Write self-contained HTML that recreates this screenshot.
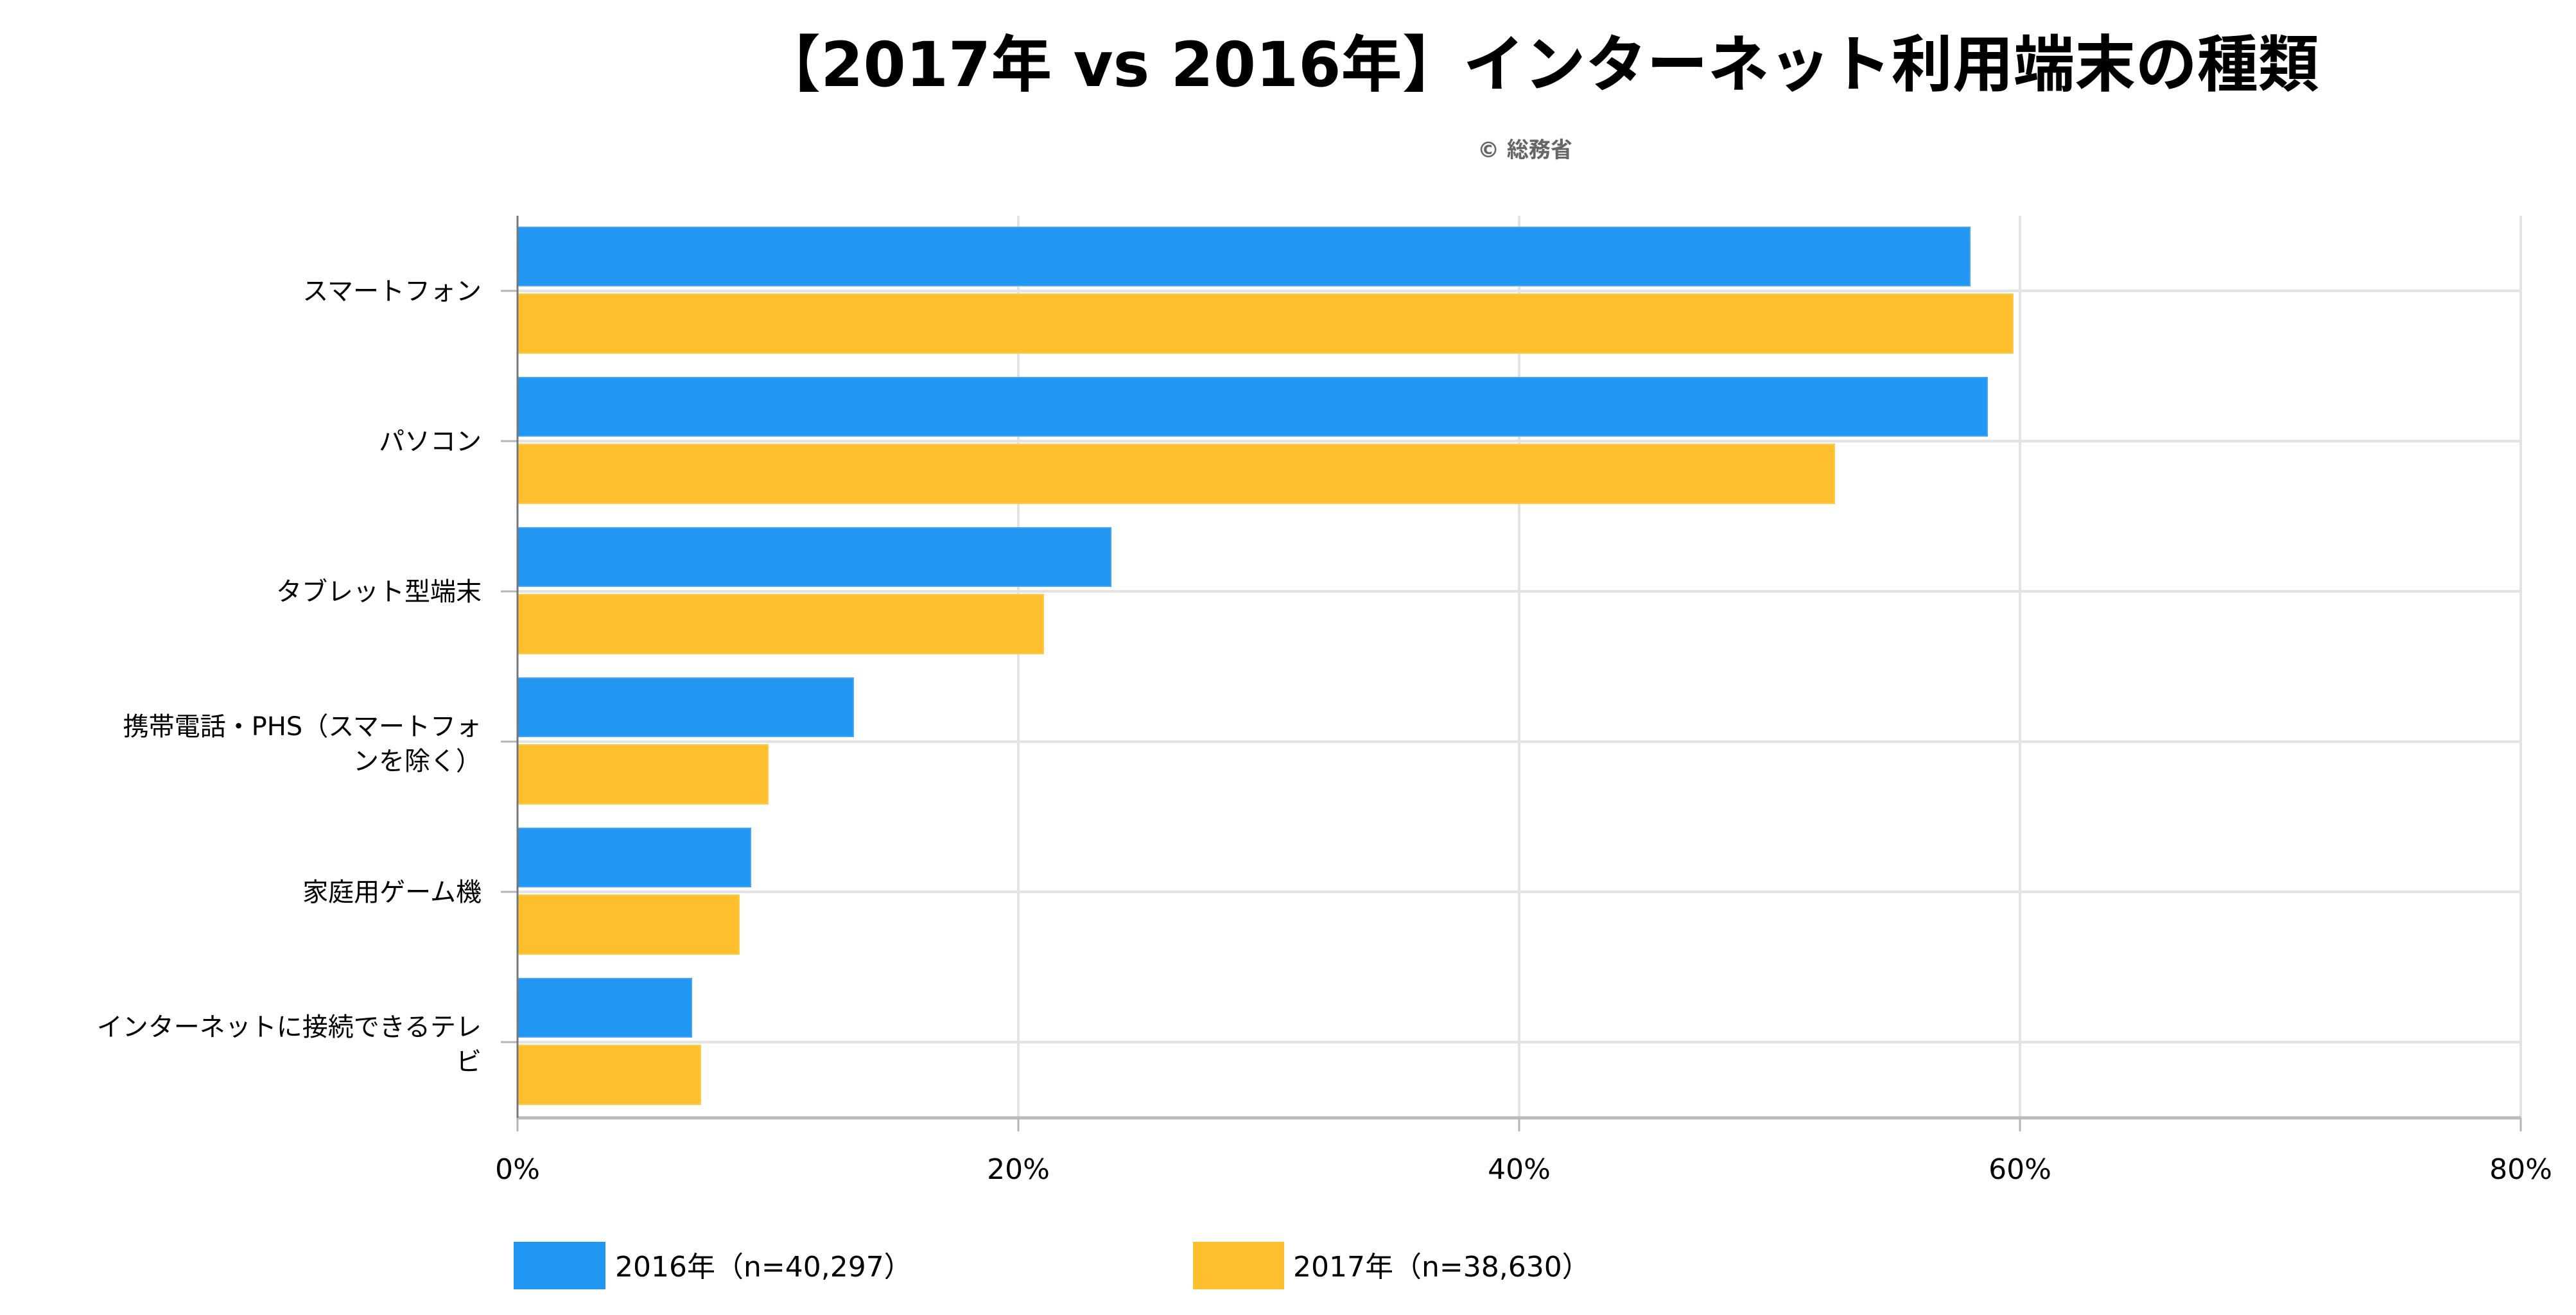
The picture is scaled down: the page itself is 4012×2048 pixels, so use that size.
<!DOCTYPE html>
<html><head><meta charset="utf-8"><style>html,body{margin:0;padding:0;background:#fff}svg{display:block}</style></head>
<body>
<svg width="4012" height="2048" viewBox="0 0 4012 2048" xmlns="http://www.w3.org/2000/svg" font-family="'DejaVu Sans','Noto Sans CJK JP',sans-serif">
<rect width="4012" height="2048" fill="#fff"/>
<text x="1183" y="134" font-size="96" font-weight="bold" fill="#000" textLength="2429" lengthAdjust="spacingAndGlyphs">【2017年 vs 2016年】インターネット利用端末の種類</text>
<text x="2375" y="245" text-anchor="middle" font-size="34" font-weight="bold" fill="#666">© 総務省</text>
<g stroke="#e3e3e3" stroke-width="4">
<line x1="1586" y1="336" x2="1586" y2="1741"/><line x1="2366" y1="336" x2="2366" y2="1741"/>
<line x1="3146" y1="336" x2="3146" y2="1741"/><line x1="3926" y1="336" x2="3926" y2="1741"/>
<line x1="806" y1="453" x2="3926" y2="453"/><line x1="806" y1="687" x2="3926" y2="687"/>
<line x1="806" y1="921" x2="3926" y2="921"/><line x1="806" y1="1155" x2="3926" y2="1155"/>
<line x1="806" y1="1389" x2="3926" y2="1389"/><line x1="806" y1="1623" x2="3926" y2="1623"/>
</g>
<g stroke="#b5b5b5" stroke-width="3">
<line x1="780" y1="453" x2="806" y2="453"/><line x1="780" y1="687" x2="806" y2="687"/>
<line x1="780" y1="921" x2="806" y2="921"/><line x1="780" y1="1155" x2="806" y2="1155"/>
<line x1="780" y1="1389" x2="806" y2="1389"/><line x1="780" y1="1623" x2="806" y2="1623"/>
<line x1="806" y1="1741" x2="806" y2="1762"/><line x1="1586" y1="1741" x2="1586" y2="1762"/>
<line x1="2366" y1="1741" x2="2366" y2="1762"/><line x1="3146" y1="1741" x2="3146" y2="1762"/>
<line x1="3926" y1="1741" x2="3926" y2="1762"/>
</g>
<line x1="806" y1="1741" x2="3926" y2="1741" stroke="#bbb" stroke-width="5"/>
<g fill="#2196f3" stroke="#42a5f5" stroke-width="2">
<rect x="806" y="354" width="2262" height="91"/>
<rect x="806" y="588" width="2289" height="91"/>
<rect x="806" y="822" width="924" height="91"/>
<rect x="806" y="1056" width="523" height="91"/>
<rect x="806" y="1290" width="363" height="91"/>
<rect x="806" y="1524" width="271" height="91"/>
</g>
<g fill="#fdbf2d" stroke="#ffca4a" stroke-width="2">
<rect x="806" y="458" width="2329" height="92"/>
<rect x="806" y="692" width="2051" height="92"/>
<rect x="806" y="926" width="819" height="92"/>
<rect x="806" y="1160" width="390" height="92"/>
<rect x="806" y="1394" width="345" height="92"/>
<rect x="806" y="1628" width="285" height="92"/>
</g>
<line x1="806" y1="336" x2="806" y2="1741" stroke="#777" stroke-width="3"/>
<g font-size="40" fill="#000" text-anchor="end">
<text x="750" y="467">スマートフォン</text>
<text x="750" y="701">パソコン</text>
<text x="750" y="935">タブレット型端末</text>
<text x="750" y="1145">携帯電話・PHS（スマートフォ</text>
<text x="750" y="1199">ンを除く）</text>
<text x="750" y="1403">家庭用ゲーム機</text>
<text x="750" y="1613">インターネットに接続できるテレ</text>
<text x="750" y="1667">ビ</text>
</g>
<g font-size="44" fill="#000" text-anchor="middle">
<text x="806" y="1836">0%</text><text x="1586" y="1836">20%</text>
<text x="2366" y="1836">40%</text><text x="3146" y="1836">60%</text>
<text x="3926" y="1836">80%</text>
</g>
<rect x="800" y="1934" width="143" height="74" fill="#2196f3"/>
<rect x="1858" y="1934" width="142" height="74" fill="#fdbf2d"/>
<g font-size="44" fill="#000">
<text x="958" y="1988">2016年（n=40,297）</text>
<text x="2014" y="1988">2017年（n=38,630）</text>
</g>
</svg>
</body></html>
